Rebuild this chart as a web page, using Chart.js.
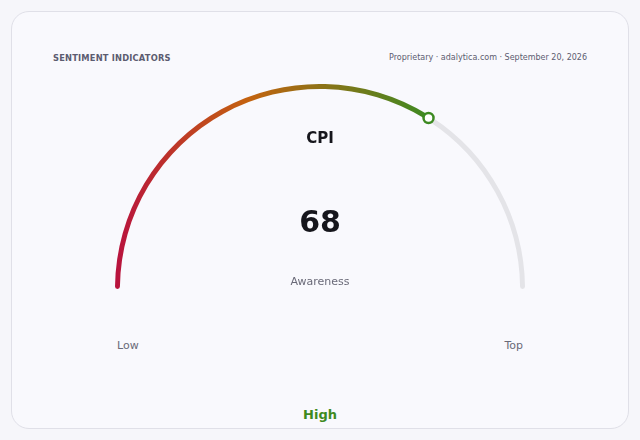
<!DOCTYPE html>
<html lang="en">

<head>
    <meta charset="UTF-8">
    <title>Sentiment indicators - CPI</title>
    <script src="https://cdn.jsdelivr.net/npm/chart.js"></script>
    <style>
        html, body {
            margin: 0;
            padding: 0;
            width: 640px;
            height: 440px;
            background: #f6f6fa;
            font-family: "DejaVu Sans", sans-serif;
            overflow: hidden;
        }

        .card {
            position: absolute;
            left: 11px;
            top: 11px;
            width: 616px;
            height: 416px;
            border: 1px solid #e0e0e8;
            border-radius: 18px;
            background: #f9f9fd;
        }

        .txt {
            position: absolute;
            white-space: nowrap;
        }

        .titulo {
            left: 53px;
            top: 53px;
            font-size: 8.3px;
            font-weight: bold;
            color: #5c5c70;
            letter-spacing: 0.2px;
        }

        .fonte {
            right: 53px;
            top: 53px;
            font-size: 8px;
            color: #5c5c70;
        }

        .centro {
            left: 0;
            width: 640px;
            text-align: center;
        }

        .gauge {
            position: absolute;
            left: 115px;
            top: 84px;
            width: 410px;
            height: 205px;
        }
    </style>
</head>

<body>
    <div class="card"></div>
    <div class="txt titulo">SENTIMENT INDICATORS</div>
    <div class="txt fonte">Proprietary · adalytica.com · September 20, 2026</div>
    <div class="gauge"><canvas id="myChart"></canvas></div>
    <div class="txt centro" id="nome" style="top:129px;font-size:15px;font-weight:bold;color:#16161c;"></div>
    <div class="txt centro" id="valor" style="top:204px;font-size:30px;font-weight:bold;color:#16161c;"></div>
    <div class="txt centro" id="sub" style="top:275px;font-size:11px;color:#6a6a78;"></div>
    <div class="txt" id="minLabel" style="left:117px;top:339px;font-size:11px;color:#6a6a78;"></div>
    <div class="txt" id="maxLabel" style="right:117px;top:339px;font-size:11px;color:#6a6a78;"></div>
    <div class="txt centro" id="faixa" style="top:407px;font-size:13px;font-weight:bold;color:#3f8a1f;"></div>
</body>

</html>
<script>
    // dados do indicador
    var indicador = "CPI"
    var subtitulo = "Awareness"
    var valorAtual = 68
    var escala = [0, 100]
    var rotulosEscala = ["Low", "Top"]
    var faixaAtual = "High"

    var corInicio = '#b8123e'
    var corMeio = '#c4620f'
    var corFim = '#3d8a22'
    var corTrilho = '#e4e4e8'

    nome.innerHTML = indicador
    valor.innerHTML = valorAtual
    sub.innerHTML = subtitulo
    minLabel.innerHTML = rotulosEscala[0]
    maxLabel.innerHTML = rotulosEscala[1]
    faixa.innerHTML = faixaAtual

    function corArco(context) {
        if (context.dataIndex == 1) return corTrilho
        var chart = context.chart
        var area = chart.chartArea
        if (!area) return corFim
        var cx = (area.left + area.right) / 2
        var r = area.width / 2
        var frac = (valorAtual - escala[0]) / (escala[1] - escala[0])
        var xFim = cx - Math.cos(frac * Math.PI) * r
        var grad = chart.ctx.createLinearGradient(area.left, 0, xFim, 0)
        grad.addColorStop(0, corInicio)
        grad.addColorStop(0.42, corMeio)
        grad.addColorStop(1, corFim)
        return grad
    }

    // marcador no fim do arco do valor
    const marcador = {
        id: 'marcador',
        afterDatasetsDraw(chart) {
            var arco = chart.getDatasetMeta(0).data[0]
            if (!arco) return
            var r = (arco.outerRadius + arco.innerRadius) / 2
            var x = arco.x + Math.cos(arco.endAngle) * r
            var y = arco.y + Math.sin(arco.endAngle) * r
            var ctx = chart.ctx
            ctx.save()
            ctx.beginPath()
            ctx.arc(x, y, 5, 0, Math.PI * 2)
            ctx.fillStyle = '#ffffff'
            ctx.fill()
            ctx.lineWidth = 2.5
            ctx.strokeStyle = corFim
            ctx.stroke()
            ctx.restore()
        }
    }

    let dados = {
        labels: [indicador, ''],
        datasets: [{
            data: [valorAtual - escala[0], escala[1] - valorAtual],
            backgroundColor: corArco,
            borderWidth: 0,
            borderRadius: 2.5,
        }]
    }

    const config = {
        type: 'doughnut',
        data: dados,
        options: {
            responsive: true,
            maintainAspectRatio: false,
            animation: false,
            rotation: -90,
            circumference: 180,
            cutout: '97.6%',
            layout: { padding: 0 },
            plugins: {
                legend: { display: false },
                tooltip: { enabled: false }
            }
        },
        plugins: [marcador]
    }

    let myChart = new Chart(document.getElementById('myChart'), config)
</script>
